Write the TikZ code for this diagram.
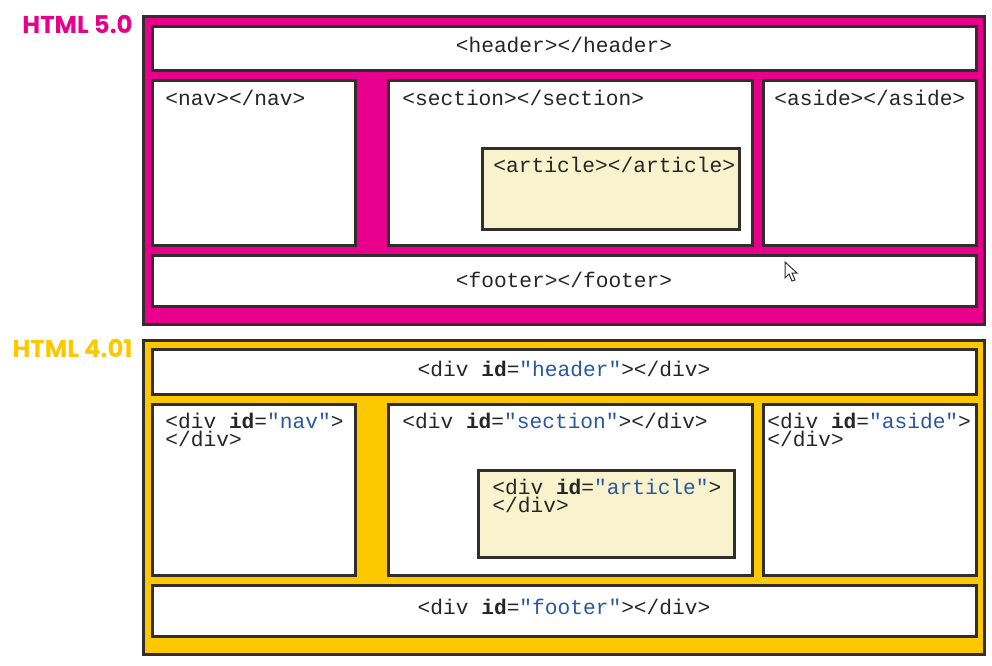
\documentclass[tikz,border=0pt]{standalone}
\usepackage{fontspec}
\setmonofont{Liberation Mono}
\newfontfamily\versionfont{Poppins}
\definecolor{htmlpink}{RGB}{232,0,140}
\definecolor{htmlgold}{RGB}{253,200,0}
\definecolor{articlefill}{RGB}{248,243,205}
\definecolor{edge}{RGB}{50,46,46}
\definecolor{idblue}{RGB}{40,88,160}
\newcommand{\idattr}[1]{\textbf{id}=\textcolor{idblue}{"#1"}}
\tikzset{
	frame/.style={draw=edge, line width=1.5pt},
	tag/.style={font=\ttfamily\fontsize{10.6}{9}\selectfont, inner sep=0pt, align=left, text=black!85},
	version/.style={font=\versionfont\bfseries\fontsize{12.2}{12.2}\selectfont, anchor=base east, inner sep=0pt},
}
\begin{document}
\begin{tikzpicture}[x=0.5pt,y=-0.5pt]
	\useasboundingbox (0,0) rectangle (992,665);
	
	% HTML 5.0
	\draw[frame, fill=htmlpink] (143,16) rectangle (984,324);
	\draw[frame, fill=white] (152,26) rectangle (976,70);
	\draw[frame, fill=white] (152,80) rectangle (355,245);
	\draw[frame, fill=white] (388,80) rectangle (752,245);
	\draw[frame, fill=articlefill] (482,148) rectangle (739,229);
	\draw[frame, fill=white] (763,80) rectangle (976,245);
	\draw[frame, fill=white] (152,255) rectangle (976,306);
	\node[version, text=htmlpink] (v5) at (133,33) {HTML 5.0};
	\node[tag, anchor=base] (header5) at (564,52) {<header></header>};
	\node[tag, anchor=base west] (nav5) at (165,105) {<nav></nav>};
	\node[tag, anchor=base west] (section5) at (402,105) {<section></section>};
	\node[tag, anchor=base west] (article5) at (493,172) {<article></article>};
	\node[tag, anchor=base west] (aside5) at (774,105) {<aside></aside>};
	\node[tag, anchor=base] (footer5) at (564,287) {<footer></footer>};
	% mouse pointer
	\draw[edge, line width=0.5pt, fill=white, line join=miter]
		(785,262) -- (785,278) -- (789,274) -- (792,281) -- (795,280) -- (792,273) -- (797,273) -- cycle;
	
	% HTML 4.01
	\draw[frame, fill=htmlgold] (143,340) rectangle (984,654);
	\draw[frame, fill=white] (152,349) rectangle (976,394);
	\draw[frame, fill=white] (152,404) rectangle (355,575);
	\draw[frame, fill=white] (388,404) rectangle (752,575);
	\draw[frame, fill=articlefill] (478,470) rectangle (734,557);
	\draw[frame, fill=white] (763,404) rectangle (976,575);
	\draw[frame, fill=white] (152,585) rectangle (976,636);
	\node[version, text=htmlgold] (v4) at (133,357) {HTML 4.01};
	\node[tag, anchor=base] (header4) at (564,376) {<div \idattr{header}></div>};
	% two-line tags: base anchor sits on the last line
	\node[tag, anchor=base west] (nav4) at (165,446) {<div \idattr{nav}>\\</div>};
	\node[tag, anchor=base west] (section4) at (402,428) {<div \idattr{section}></div>};
	\node[tag, anchor=base west] (article4) at (492,512) {<div \idattr{article}>\\</div>};
	\node[tag, anchor=base west] (aside4) at (767,446) {<div \idattr{aside}>\\</div>};
	\node[tag, anchor=base] (footer4) at (564,614) {<div \idattr{footer}></div>};
\end{tikzpicture}
\end{document}
